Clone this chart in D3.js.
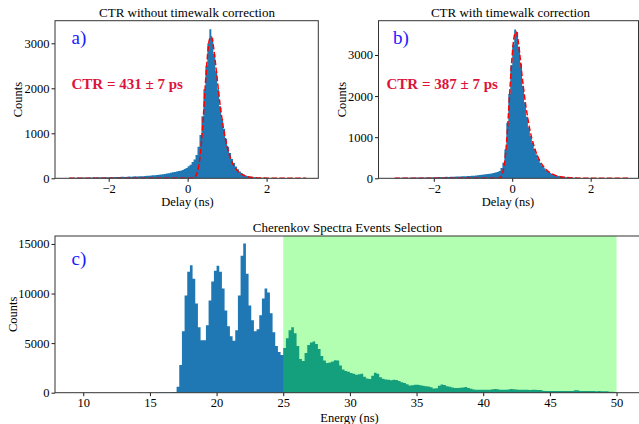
<!DOCTYPE html>
<html><head><meta charset="utf-8">
<script src="https://cdn.jsdelivr.net/npm/d3@7"></script>
<style>
body{margin:0;background:#fff}
svg{display:block}
text{font-family:"Liberation Serif","Times New Roman",serif;fill:#000}
</style>
</head><body>
<svg id="c" width="639" height="424"></svg>
<script>
// ---------- DATA ----------
// Delay histograms: bins of 0.05 ns from -3 to 3
const delayBinStart = -3, delayBinWidth = 0.05;
const delayCountsNoCorr = [
 12,15,10,14,17,13,16,18,15,20,17,19,22,18,21,24,20,23,26,22,
 25,28,24,27,30,28,32,35,31,34,38,36,40,43,41,45,48,46,52,55,
 58,62,66,70,74,80,85,90,96,104,
 112,122,132,142,150,160,170,185,205,230,
 270,300,360,420,520,700,960,1380,1980,2500,
 3000,3310,3120,2760,2380,1980,1600,1320,1100,880,
 700,560,430,340,260,200,150,115,85,65,
 50,40,32,26,22,18,15,13,12,10,
 9,8,8,7,7,6,6,5,5,5,4,4,4,3,3,3,3,2,2,2
];
const delayCountsCorr = [
 10,12,9,13,11,14,15,12,16,14,17,19,16,18,21,19,22,24,21,25,
 27,25,29,31,28,33,35,32,37,39,36,41,44,42,47,50,48,53,57,60,
 64,68,72,78,84,90,96,102,110,118,
 128,140,155,180,250,380,700,1350,2050,2750,
 3250,3620,3560,3200,2780,2250,1850,1500,1240,1030,
 860,710,580,470,380,305,245,195,160,130,
 105,85,70,58,48,40,33,28,23,19,
 16,14,12,10,9,8,7,6,6,5,
 5,4,4,4,3,3,3,3,2,2,2,2,2,1,1,1,1,1,1,1
];
// Fit curves (red dashed)
const fitNoCorrX = [-3,-1,0,0.15,0.2,0.25,0.3,0.35,0.4,0.45,0.5,0.55,0.6,0.65,0.7,0.75,0.8,0.85,0.9,0.95,1.0,1.05,1.1,1.15,1.2,1.25,1.3,1.35,1.4,1.5,1.6,1.8,2.0,2.5,3];
const fitNoCorrY = [0,0,0,5,40,150,380,800,1400,2100,2700,3080,3150,2950,2600,2200,1800,1450,1150,900,700,540,410,310,240,180,135,100,75,40,22,8,3,0,0];
const fitCorrX = [-3,-1,-0.35,-0.3,-0.25,-0.2,-0.15,-0.1,-0.05,0,0.05,0.1,0.15,0.2,0.25,0.3,0.35,0.4,0.45,0.5,0.55,0.6,0.7,0.8,0.9,1.0,1.1,1.2,1.4,1.6,2.0,3];
const fitCorrY = [0,0,0,20,120,350,800,1500,2300,3000,3450,3560,3350,2950,2500,2100,1740,1440,1180,970,800,650,430,280,180,115,72,45,17,6,1,0];

// Energy histogram: bins of 0.2 ns from 10 to 50
const energyBinStart = 10, energyBinWidth = 0.2;
const energyCounts = [
 5,0,3,0,4,2,0,5,3,0,4,6,0,3,5,2,7,4,0,6,3,8,5,4,9,6,7,10,8,12,15,18,25,40,70,
 600,2800,6200,9800,12200,12850,11500,9000,6600,5300,
 5300,6800,9300,11200,12300,12800,12200,10500,8300,6700,
 5700,5250,6300,9800,13800,15050,12000,8800,7300,6200,
 6400,7800,9500,10500,10100,8000,6100,4700,4100,3800,
 4500,5500,6300,6600,6000,4700,3400,3200,4000,4800,
 5050,5170,4900,4400,3700,3250,3000,3050,3150,3270,
 3250,2750,2350,2180,2100,1980,1900,1820,1850,1900,
 1600,1420,1370,1700,2000,1900,1550,1400,1320,1300,
 1260,1310,1280,1180,1050,980,850,720,760,800,
 810,760,700,650,620,560,420,450,700,820,
 780,660,600,520,470,480,490,520,570,480,
 400,330,300,290,300,310,290,300,340,370,
 350,310,300,290,320,370,360,330,300,310,
 290,300,280,300,290,280,260,190,180,175,
 170,180,165,170,175,160,170,165,170,240,
 250,170,165,160,170,160,165,155,160,150,
 155,150,100,90,80
];
const selectionRange = [25, 50];

// Ticks and texts
const delayTicks = [-2, 0, 2];
const delayCountTicks = [0, 1000, 2000, 3000];
const energyTicks = [10, 15, 20, 25, 30, 35, 40, 45, 50];
const energyCountTicks = [0, 5000, 10000, 15000];
const titles = ["CTR without timewalk correction", "CTR with timewalk correction", "Cherenkov Spectra Events Selection"];
const tags = ["a)", "b)", "c)"];
const ctrTexts = ["CTR = 431 \u00b1 7 ps", "CTR = 387 \u00b1 7 ps"];

// ---------- DRAW ----------
const svg = d3.select("#c");
const BLUE = "#1f77b4";
const fmt = v => (v < 0 ? "\u2212" + Math.abs(v) : String(v));
let clipId = 0;

function panel(o) {
  const x = d3.scaleLinear().domain(o.xDomain).range([o.left, o.right]);
  const y = d3.scaleLinear().domain(o.yDomain).range([o.bottom, o.top]);
  const id = "clip" + (clipId++);
  svg.append("clipPath").attr("id", id).append("rect")
    .attr("x", o.left).attr("y", o.top).attr("width", o.right - o.left).attr("height", o.bottom - o.top);
  const g = svg.append("g").attr("clip-path", `url(#${id})`);

  // histogram as step area
  const pts = o.counts.map((v, i) => ({x: o.binStart + i * o.binWidth, y: v}));
  pts.push({x: o.binStart + o.counts.length * o.binWidth, y: o.counts[o.counts.length - 1]});
  const area = d3.area().x(d => x(d.x)).y0(y(0)).y1(d => y(d.y)).curve(d3.curveStepAfter);
  g.append("path").attr("d", area(pts)).attr("fill", BLUE);

  if (o.span) {
    g.append("rect").attr("x", x(o.span[0])).attr("width", x(o.span[1]) - x(o.span[0]))
      .attr("y", o.top).attr("height", o.bottom - o.top)
      .attr("fill", "lime").attr("fill-opacity", 0.3);
  }
  if (o.fitX) {
    const line = d3.line().x((d, i) => x(o.fitX[i])).y(d => y(d)).curve(d3.curveMonotoneX);
    g.append("path").attr("d", line(o.fitY)).attr("fill", "none")
      .attr("stroke", "red").attr("stroke-width", 1.5).attr("stroke-dasharray", "5.5,2.4");
  }

  // axes
  const ax = svg.append("g").attr("transform", `translate(0,${o.bottom})`)
    .call(d3.axisBottom(x).tickValues(o.xTicks).tickFormat(fmt).tickSize(3.5).tickPadding(2));
  const ay = svg.append("g").attr("transform", `translate(${o.left},0)`)
    .call(d3.axisLeft(y).tickValues(o.yTicks).tickFormat(fmt).tickSize(3.5).tickPadding(2));
  [ax, ay].forEach(a => {
    a.select(".domain").remove();
    a.selectAll("text").attr("font-size", "12.5px").attr("fill", "#000")
      .style("font-family", '"Liberation Serif","Times New Roman",serif');
    a.selectAll("line").attr("stroke", "#000").attr("stroke-width", 0.9);
  });
  // frame
  svg.append("rect").attr("x", o.left).attr("y", o.top)
    .attr("width", o.right - o.left).attr("height", o.bottom - o.top)
    .attr("fill", "none").attr("stroke", "#333").attr("stroke-width", 1);

  svg.append("text").attr("x", o.titleX).attr("y", o.top - 4).attr("text-anchor", "middle")
    .attr("font-size", "13px").text(o.title);
  svg.append("text").attr("x", o.xlabelX).attr("y", o.xlabelY).attr("text-anchor", "middle")
    .attr("font-size", "12.5px").text(o.xlabel);
  svg.append("text").attr("transform", `translate(${o.ylabelX},${(o.top + o.bottom) / 2}) rotate(-90)`)
    .attr("text-anchor", "middle").attr("font-size", "12.5px").text("Counts");
  svg.append("text").attr("x", o.tagX).attr("y", o.tagY).attr("font-size", "19px")
    .style("fill", "#1a1aff").text(o.tag);
  if (o.ctr) {
    svg.append("text").attr("x", o.ctrX).attr("y", o.ctrY).attr("font-size", "15px")
      .attr("font-weight", "bold").style("fill", "#dc143c").text(o.ctr);
  }
}

panel({
  left: 55, right: 318.3, top: 20.7, bottom: 178.3,
  xDomain: [-3.36, 3.31], yDomain: [0, 3502],
  counts: delayCountsNoCorr, binStart: delayBinStart, binWidth: delayBinWidth,
  fitX: fitNoCorrX, fitY: fitNoCorrY,
  xTicks: delayTicks, yTicks: delayCountTicks,
  title: titles[0], titleX: 187, xlabel: "Delay (ns)", xlabelX: 187.5, xlabelY: 206,
  ylabelX: 22, tag: tags[0], tagX: 71.5, tagY: 43.5, ctr: ctrTexts[0], ctrX: 71.5, ctrY: 89
});
panel({
  left: 378.5, right: 638.5, top: 20.7, bottom: 178.3,
  xDomain: [-3.41, 3.22], yDomain: [0, 3834],
  counts: delayCountsCorr, binStart: delayBinStart, binWidth: delayBinWidth,
  fitX: fitCorrX, fitY: fitCorrY,
  xTicks: delayTicks, yTicks: delayCountTicks,
  title: titles[1], titleX: 510.5, xlabel: "Delay (ns)", xlabelX: 508, xlabelY: 206,
  ylabelX: 345.5, tag: tags[1], tagX: 393, tagY: 43.5, ctr: ctrTexts[1], ctrX: 386.5, ctrY: 88.5
});
panel({
  left: 55, right: 644, top: 236, bottom: 392.7,
  xDomain: [7.88, 52.06], yDomain: [0, 15800],
  counts: energyCounts, binStart: energyBinStart, binWidth: energyBinWidth,
  span: selectionRange,
  xTicks: energyTicks, yTicks: energyCountTicks,
  title: titles[2], titleX: 347.5, xlabel: "Energy (ns)", xlabelX: 349.5, xlabelY: 421.5,
  ylabelX: 16.5, tag: tags[2], tagX: 71.5, tagY: 265
});
</script>
</body></html>
